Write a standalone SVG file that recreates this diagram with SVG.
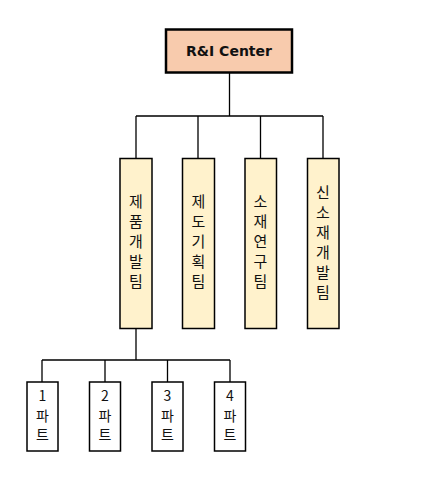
<svg xmlns="http://www.w3.org/2000/svg" width="435" height="478" viewBox="0 0 435 478">
<style>
.top{fill:#F8CBAD;stroke:#000;stroke-width:2.5}
.team{fill:#FFF2CC;stroke:#000;stroke-width:1.5}
.part{fill:#FFFFFF;stroke:#000;stroke-width:1.5}
.ln{fill:none;stroke:#000;stroke-width:1.3}
text{font-family:"Noto Sans CJK KR","Liberation Sans",sans-serif;fill:#111;text-anchor:middle}
.t1{font-family:"DejaVu Sans","Liberation Sans",sans-serif;font-size:14px;font-weight:bold}
.t2{font-size:15px}
.t3{font-size:14px}
</style>
<rect width="435" height="478" fill="#fff"/>
<g id="connectors">
<path class="ln" d="M229.5 73V116M136 116H323M136 116V158M198 116V158M260.5 116V158M323 116V158"/>
<path class="ln" d="M136 328V360M42 360H230M42 360V382M105 360V382M167.5 360V382M230 360V382"/>
</g>
<g id="center">
<rect class="top" x="166" y="29.5" width="126" height="43"/>
<text class="t1" x="229" y="56">R&amp;I Center</text>
</g>
<g id="team1">
<rect class="team" x="120" y="158.5" width="32" height="170"/>
<text class="t2"><tspan x="136" y="207">제</tspan><tspan x="136" y="227">품</tspan><tspan x="136" y="247">개</tspan><tspan x="136" y="267">발</tspan><tspan x="136" y="287">팀</tspan></text>
</g>
<g id="team2">
<rect class="team" x="182.5" y="158.5" width="32" height="170"/>
<text class="t2"><tspan x="198.5" y="207">제</tspan><tspan x="198.5" y="227">도</tspan><tspan x="198.5" y="247">기</tspan><tspan x="198.5" y="267">획</tspan><tspan x="198.5" y="287">팀</tspan></text>
</g>
<g id="team3">
<rect class="team" x="245" y="158.5" width="31.5" height="170"/>
<text class="t2"><tspan x="260.5" y="207">소</tspan><tspan x="260.5" y="227">재</tspan><tspan x="260.5" y="247">연</tspan><tspan x="260.5" y="267">구</tspan><tspan x="260.5" y="287">팀</tspan></text>
</g>
<g id="team4">
<rect class="team" x="307.5" y="158.5" width="31.5" height="170"/>
<text class="t2"><tspan x="323" y="198">신</tspan><tspan x="323" y="218">소</tspan><tspan x="323" y="238">재</tspan><tspan x="323" y="258">개</tspan><tspan x="323" y="278">발</tspan><tspan x="323" y="298">팀</tspan></text>
</g>
<g id="part1">
<rect class="part" x="27" y="382" width="31" height="69"/>
<text class="t3"><tspan x="42.5" y="401">1</tspan><tspan x="42.5" y="421">파</tspan><tspan x="42.5" y="440">트</tspan></text>
</g>
<g id="part2">
<rect class="part" x="89.5" y="382" width="31" height="69"/>
<text class="t3"><tspan x="105" y="401">2</tspan><tspan x="105" y="421">파</tspan><tspan x="105" y="440">트</tspan></text>
</g>
<g id="part3">
<rect class="part" x="152" y="382" width="31" height="69"/>
<text class="t3"><tspan x="167.5" y="401">3</tspan><tspan x="167.5" y="421">파</tspan><tspan x="167.5" y="440">트</tspan></text>
</g>
<g id="part4">
<rect class="part" x="214.5" y="382" width="31" height="69"/>
<text class="t3"><tspan x="230" y="401">4</tspan><tspan x="230" y="421">파</tspan><tspan x="230" y="440">트</tspan></text>
</g>
</svg>
